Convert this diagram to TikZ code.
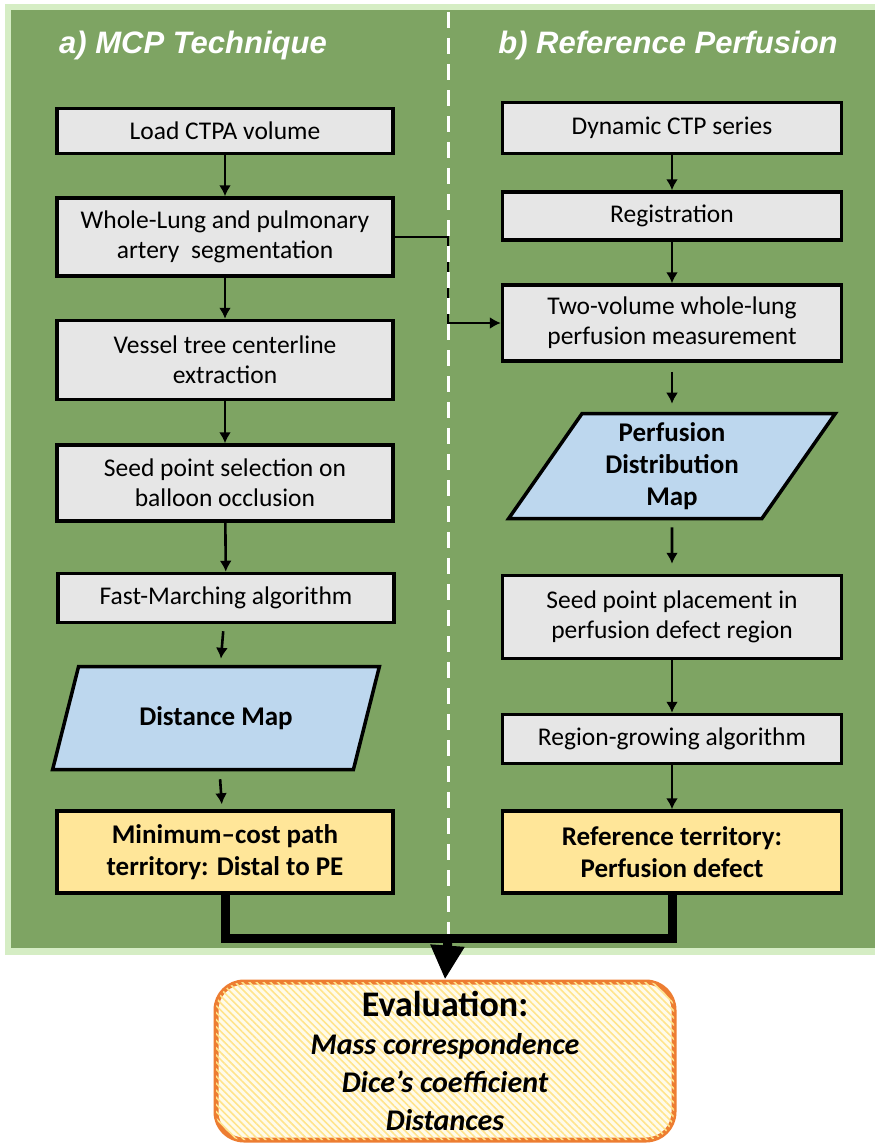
\documentclass[tikz,border=0pt]{standalone}
\usepackage{fontspec}
\setmainfont{Carlito}
\newfontfamily\headfont{Liberation Sans}
\usepackage{tikz}
\usetikzlibrary{positioning}
\usetikzlibrary{shapes.geometric}
\usetikzlibrary{arrows.meta}
\usetikzlibrary{patterns.meta}

\definecolor{panelgreen}{HTML}{7EA463}
\definecolor{edgegreen}{HTML}{D5EDC4}
\definecolor{boxgray}{HTML}{E6E6E6}
\definecolor{mapblue}{HTML}{BDD7EE}
\definecolor{resultyellow}{HTML}{FFE699}
\definecolor{evalorange}{HTML}{ED7D31}
\definecolor{evalfill}{HTML}{FFFBEA}
\definecolor{evalhatch}{HTML}{FFE48C}

\tikzset{
  procbox/.style={rectangle, draw=black, line width=3.5pt, fill=boxgray,
    minimum width=336pt, inner sep=0pt, align=center,
    font=\fontsize{25.5}{30}\selectfont},
  resultbox/.style={procbox, fill=resultyellow,
    font=\bfseries\fontsize{27}{32}\selectfont},
  mapbox/.style={trapezium, trapezium left angle=58, trapezium right angle=122,
    trapezium stretches=true, draw=black, line width=3.5pt, fill=mapblue,
    minimum width=327pt, minimum height=103pt, inner sep=0pt, align=center,
    font=\bfseries\fontsize{27}{32}\selectfont},
  paneltitle/.style={text=white, font=\headfont\bfseries\itshape\fontsize{31}{34}\selectfont},
  flow/.style={-{Latex[length=11pt, width=12pt]}, line width=2.6pt, draw=black},
  merge/.style={line width=9pt, draw=black},
}

\begin{document}
\begin{tikzpicture}[x=1pt, y=-1pt]
\useasboundingbox (0,0) rectangle (875,1143);
% background panel
\fill [edgegreen] (5,4) rectangle (875,955);
\fill [panelgreen] (11,10) rectangle (875,948);

\node [paneltitle] (TA) at (193,45) {a) MCP Technique};
\node [paneltitle] (TB) at (668,45) {b) Reference Perfusion};

% a) MCP technique
\node [procbox, minimum height=45pt] (LC) at (225,131) {Load CTPA volume};
\node [procbox, minimum height=78pt] (WL) at (225,237) {Whole-Lung and pulmonary\\artery\ \ segmentation};
\node [procbox, minimum height=79pt] (VT) at (225,360) {Vessel tree centerline\\extraction};
\node [procbox, minimum height=76pt] (SP) at (225,483) {Seed point selection on\\balloon occlusion};
\node [procbox, minimum height=49pt] (FM) at (226,598) {Fast-Marching algorithm};
\node [mapbox] (DM) at (216,718) {Distance Map};
\node [resultbox, minimum height=82pt] (MC) at (225,852) {Minimum--cost path\\territory: Distal to PE};

% b) reference perfusion
\node [procbox, minimum width=339pt, minimum height=51pt] (DC) at (672,128) {Dynamic CTP series};
\node [procbox, minimum width=339pt, minimum height=48pt] (RG) at (672,216) {Registration};
\node [procbox, minimum width=339pt, minimum height=76pt] (TV) at (672,323) {Two-volume whole-lung\\perfusion measurement};
\node [mapbox, minimum height=105pt] (PD) at (672,466) {Perfusion\\Distribution\\Map};
\node [procbox, minimum width=339pt, minimum height=83pt] (SL) at (672,617) {Seed point placement in\\perfusion defect region};
\node [procbox, minimum width=339pt, minimum height=49pt] (RA) at (672,739) {Region-growing algorithm};
\node [resultbox, minimum width=339pt, minimum height=82pt] (RT) at (672,852) {Reference territory:\\Perfusion defect};

% evaluation
\node [rectangle, rounded corners=28pt, draw=evalorange, line width=5pt, fill=evalfill,
  postaction={pattern={Lines[angle=-45, distance=5pt, line width=1.6pt]}, pattern color=evalhatch},
  minimum width=458pt, minimum height=158pt, align=center,
  font=\bfseries\itshape\fontsize{30}{38}\selectfont] (EV) at (445,1061)
  {{\upshape\fontsize{36}{38}\selectfont Evaluation:}\\Mass correspondence\\Dice’s coefficient\\Distances};

\coordinate (bendtop) at (448,237);
\coordinate (join) at (448,938);

\draw [flow] (LC) to (WL);
\draw [flow] (WL) to (VT);
\draw [flow] (VT) to (SP);
\draw [flow] (SP) to (FM);
\draw [flow, shorten <=7pt, shorten >=6pt] (FM) to (DM);
\draw [flow, shorten <=8pt, shorten >=5pt] (DM) to (MC);
\draw [flow] (DC) to (RG);
\draw [flow] (RG) to (TV);
\draw [flow, shorten <=9pt, shorten >=8pt] (TV) to (PD);
\draw [flow, shorten <=7pt, shorten >=10pt] (PD) to (SL);
\draw [flow] (SL) to (RA);
\draw [flow] (RA) to (RT);
\draw [flow, line width=2pt] (WL.east) -- (bendtop) |- (TV.west);

% dashed divider
\draw [white, line width=3pt, dash pattern=on 16pt off 10pt] (448,12) -- (448,934);

\draw [merge] (MC.south) |- (join) -| (RT.south);
\draw [merge, -{Triangle[width=32pt, length=34pt]}] (join) -- (EV.north);
\end{tikzpicture}
\end{document}
